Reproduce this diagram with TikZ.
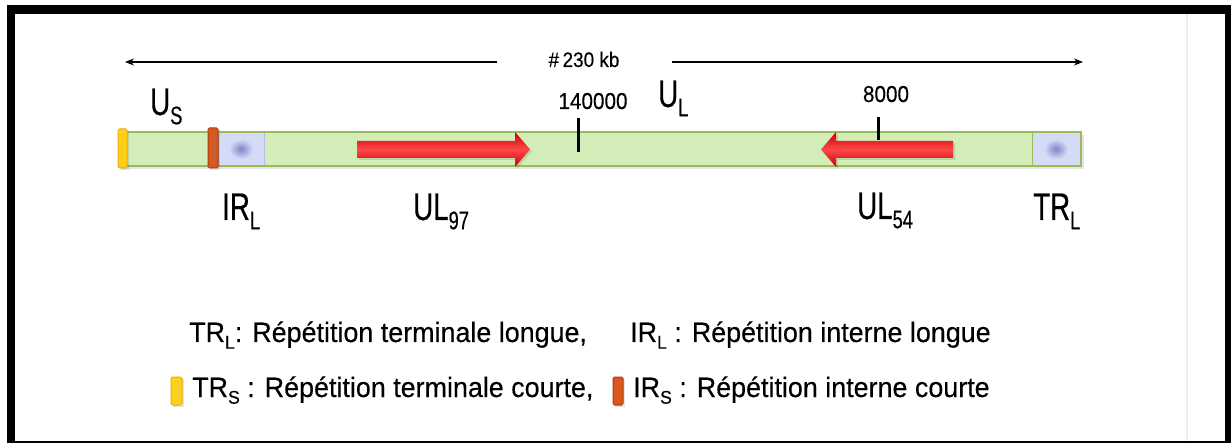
\documentclass[tikz,border=0pt]{standalone}
\usepackage{fontspec}
\setmainfont{Liberation Sans}
\newfontfamily\bigf{Liberation Sans}[FakeStretch=0.72,FakeBold=0.4]
\newfontfamily\numf{Liberation Sans}[FakeStretch=0.9,FakeBold=0.3]
\newfontfamily\legf{Liberation Sans}[FakeStretch=0.96,FakeBold=0.3]
\usetikzlibrary{arrows.meta}
\definecolor{barfill}{HTML}{D3EDB8}
\definecolor{barline}{HTML}{9BBB59}
\definecolor{boxfill}{HTML}{D5DBF6}
\definecolor{boxline}{HTML}{B4BCE8}
\definecolor{boxdot}{HTML}{7F84C8}
\definecolor{redd}{HTML}{C80000}
\definecolor{redl}{HTML}{FF4848}
\definecolor{yel}{HTML}{FFD21A}
\definecolor{yelb}{HTML}{F2A900}
\definecolor{ora}{HTML}{D9561C}
\definecolor{orab}{HTML}{A8400E}
\newcommand{\mysub}[1]{\raisebox{-0.24em}{\scalebox{0.66}{#1}}}
\tikzset{
  biglab/.style={font=\bigf\fontsize{38.5}{38.5}\selectfont, anchor=base west, inner sep=0pt},
  numlab/.style={font=\numf\fontsize{23}{23}\selectfont, anchor=base, inner sep=0pt},
  kblab/.style={font=\numf\fontsize{21}{21}\selectfont, anchor=base, inner sep=0pt},
  leg/.style={font=\legf\fontsize{28}{28}\selectfont, anchor=base west, inner sep=0pt},
  dim/.style={line width=1.1pt, -{Stealth[length=9pt,width=7pt]}},
  tick/.style={line width=3pt},
  bluebox/.style={fill=boxfill, draw=boxline, line width=0.8pt},
  redarrow/.style={top color=redd, bottom color=redd, middle color=redl},
  yelmark/.style={fill=yel, draw=yelb, line width=1pt, rounded corners=1.5pt},
  oramark/.style={fill=ora, draw=orab, line width=1pt, rounded corners=1.5pt},
  shadow/.style={fill=black, opacity=0.10},
}
\begin{document}
\begin{tikzpicture}[x=1pt,y=-1pt]
\useasboundingbox (0,0) rectangle (1231,443);
% frame
\fill[white] (0,0) rectangle (1231,443);
\fill[black] (7,5) rectangle (1231,443);
\fill[white] (15,14) rectangle (1225,441);
\fill[black!7] (1186,14) rectangle (1188,441);

% top size arrows
\node[kblab] (kb) at (584,67) {\#\,230 kb};
\coordinate (la) at (497,62);
\coordinate (lt) at (125,62);
\coordinate (ra) at (672,62);
\coordinate (rt) at (1083,62);
\draw[dim] (la) -- (lt);
\draw[dim] (ra) -- (rt);

% genome bar
\fill[shadow] (122,135) rectangle (1084,169);
\draw[barline, fill=barfill, line width=1.2pt] (120,132) rectangle (1081,166);
\draw[bluebox] (218.5,132.5) rectangle (264,165.5);
\shade[inner color=boxdot, outer color=boxfill] (229,139) rectangle (253,159);
\draw[bluebox] (1032,132.5) rectangle (1080.5,165.5);
\shade[inner color=boxdot, outer color=boxfill] (1044,139) rectangle (1068,159);
\draw[barline, line width=1.2pt] (120,132) rectangle (1081,166);
\draw[barline, line width=1pt] (1032,132) -- (1032,166);

% short repeats
\fill[shadow] (120,131) rectangle (129,170);
\draw[yelmark] (118,129) rectangle (127,168);
\draw[yelb!70, line width=0.6pt] (121.3,134) rectangle (123.7,163);
\fill[shadow] (210,130) rectangle (220,170);
\draw[oramark] (208,128) rectangle (218,168);
\draw[orab!80, line width=0.6pt] (211.5,133) rectangle (214.5,163);

% red arrows
\fill[shadow] (359,143) -- (517,143) -- (517,134) -- (532,151.5) -- (517,169) -- (517,160) -- (359,160) -- cycle;
\shade[redarrow] (357,141) -- (515,141) -- (515,132) -- (530,149.5) -- (515,167) -- (515,158) -- (357,158) -- cycle;
\fill[shadow] (955,143) -- (838,143) -- (838,134) -- (823,151.5) -- (838,169) -- (838,160) -- (955,160) -- cycle;
\shade[redarrow] (953,141) -- (836,141) -- (836,132) -- (821,149.5) -- (836,167) -- (836,158) -- (953,158) -- cycle;

% position ticks
\coordinate (t1a) at (578,118);
\coordinate (t1b) at (578,152);
\coordinate (t2a) at (878,117);
\coordinate (t2b) at (878,140);
\draw[tick] (t1a) -- (t1b);
\draw[tick] (t2a) -- (t2b);

% labels
\node[biglab] (us) at (150,115) {U\mysub{S}};
\node[numlab] (n140) at (593,109) {140000};
\node[biglab] (ul) at (658,107) {U\mysub{L}};
\node[numlab] (n8) at (886,102) {8000};
\node[biglab] (irl) at (222,220) {IR\mysub{L}};
\node[biglab] (ul97) at (413,220) {UL\mysub{97}};
\node[biglab] (ul54) at (857,219) {UL\mysub{54}};
\node[biglab] (trl) at (1033,220) {TR\mysub{L}};

% legend
\node[leg] (l1a) at (189,342) {TR\mysub{L}: Répétition terminale longue,};
\node[leg] (l1b) at (630,342) {IR\mysub{L} : Répétition interne longue};
\fill[shadow] (173,379) rectangle (184,407);
\draw[yelmark] (171,377) rectangle (182,405);
\draw[yelb!70, line width=0.6pt] (175,381) rectangle (178,401);
\node[leg] (l2a) at (192,397) {TR\mysub{S} : Répétition terminale courte,};
\fill[shadow] (615,379) rectangle (625,407);
\draw[oramark] (613,377) rectangle (623,405);
\draw[orab!80, line width=0.6pt] (617,381) rectangle (619.5,401);
\node[leg] (l2b) at (633,397) {IR\mysub{S} : Répétition interne courte};
\end{tikzpicture}
\end{document}
